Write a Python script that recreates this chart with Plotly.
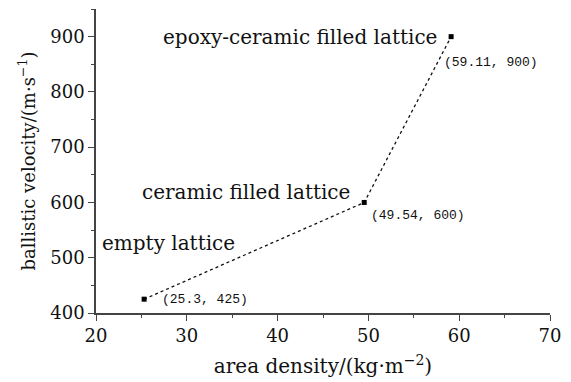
import plotly.graph_objects as go

# Lattice configurations: areal density vs. ballistic limit velocity
configs = ["empty lattice", "ceramic filled lattice", "epoxy-ceramic filled lattice"]
area_density = [25.3, 49.54, 59.11]        # kg·m^-2
ballistic_velocity = [425, 600, 900]        # m·s^-1

x_ticks = [20, 30, 40, 50, 60, 70]
y_ticks = [400, 500, 600, 700, 800, 900]

SERIF = "DejaVu Serif"
MONO = "Liberation Mono"
INK = "#111111"
AXIS = "#444444"

fig = go.Figure()
fig.add_trace(go.Scatter(
    x=area_density, y=ballistic_velocity,
    mode="lines+markers",
    line=dict(color=INK, width=1.3, dash="3px,3px"),
    marker=dict(symbol="square", size=5, color="#000000"),
    showlegend=False, hoverinfo="skip",
))

# configuration names
name_pos = [
    dict(x=20.4, y=527, xanchor="left", xshift=0, yshift=0),
    dict(x=area_density[1], y=ballistic_velocity[1], xanchor="right", xshift=-12, yshift=10),
    dict(x=area_density[2], y=ballistic_velocity[2], xanchor="right", xshift=-12, yshift=0),
]
for name, p in zip(configs, name_pos):
    fig.add_annotation(text=name, x=p["x"], y=p["y"], xref="x", yref="y",
                       xanchor=p["xanchor"], yanchor="middle",
                       xshift=p["xshift"], yshift=p["yshift"],
                       showarrow=False, font=dict(family=SERIF, size=20, color=INK))

# coordinate labels next to each point
coord_shift = [(16, 0), (5, -13), (-9, -26)]
for xv, yv, (dx, dy) in zip(area_density, ballistic_velocity, coord_shift):
    fig.add_annotation(text=f"({xv}, {yv})", x=xv, y=yv, xref="x", yref="y",
                       xanchor="left", yanchor="middle", xshift=dx, yshift=dy,
                       showarrow=False, font=dict(family=MONO, size=13, color=INK))

axis_common = dict(
    showline=True, linecolor=AXIS, linewidth=1.5,
    showgrid=False, zeroline=False, mirror=False,
    ticks="outside", ticklen=6, tickwidth=1.3, tickcolor=AXIS,
    tickfont=dict(family=SERIF, size=18, color=INK),
)

fig.update_xaxes(
    range=[20, 70], tickvals=x_ticks, ticktext=[str(v) for v in x_ticks],
    minor=dict(ticks="outside", ticklen=3, dtick=5, tick0=20, tickcolor=AXIS),
    title=dict(text="area density/(kg·m<sup>−2</sup>)", font=dict(family=SERIF, size=20, color=INK), standoff=14),
    **axis_common,
)
fig.update_yaxes(
    range=[400, 950], tickvals=y_ticks, ticktext=[str(v) for v in y_ticks],
    minor=dict(ticks="outside", ticklen=3, dtick=50, tick0=400, tickcolor=AXIS),
    title=dict(text="ballistic velocity/(m·s<sup>−1</sup>)", font=dict(family=SERIF, size=18, color=INK), standoff=10),
    **axis_common,
)

fig.update_layout(
    width=571, height=382,
    margin=dict(l=96, r=21, t=9, b=69),
    paper_bgcolor="white", plot_bgcolor="white",
)

fig.write_html("out.html")
